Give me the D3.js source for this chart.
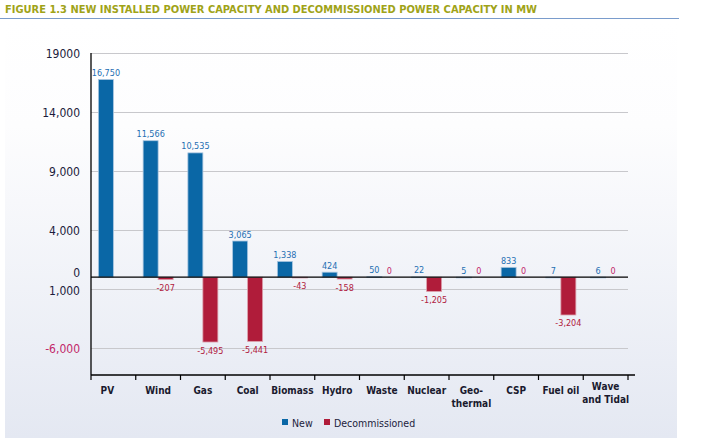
<!DOCTYPE html>
<html>
<head>
<meta charset="utf-8">
<script src="https://cdn.jsdelivr.net/npm/d3@7/dist/d3.min.js"></script>
<style>
  html, body { margin: 0; padding: 0; background: #ffffff; }
  svg { display: block; }
  text { font-family: 'Liberation Sans Narrow', 'Arial Narrow', 'DejaVu Sans Condensed', sans-serif; }
</style>
</head>
<body>
<svg id="chart" width="703" height="439"></svg>
<script>
// ---- DATA ----
const title = "FIGURE 1.3 NEW INSTALLED POWER CAPACITY AND DECOMMISSIONED POWER CAPACITY IN MW";
const categories = ["PV", "Wind", "Gas", "Coal", "Biomass", "Hydro", "Waste", "Nuclear", "Geo-\nthermal", "CSP", "Fuel oil", "Wave\nand Tidal"];
const newValues = [16750, 11566, 10535, 3065, 1338, 424, 50, 22, 5, 833, 7, 6];
const decommissionedValues = [null, -207, -5495, -5441, -43, -158, 0, -1205, 0, 0, -3204, 0];
const yTickValues = [19000, 14000, 9000, 4000, 0, -1000, -6000];
const yTickLabels = ["19000", "14,000", "9,000", "4,000", "0", "1,000", "-6,000"];
const seriesNames = ["New", "Decommissioned"];

(function () {
// ---- STYLE ----
const colors = { New: "#0a67a6", Decommissioned: "#b01c3a" };
const labelColors = { New: "#1f6fb3", Decommissioned: "#b0203e", zero: "#c2286a" };

const svg = d3.select("#chart");
const pL = 91, pR = 628, pT = 53, pB = 375;

// background panel with gradient
const defs = svg.append("defs");
const grad = defs.append("linearGradient").attr("id", "bg").attr("x1", 0).attr("y1", 0).attr("x2", 0).attr("y2", 1);
grad.append("stop").attr("offset", "0%").attr("stop-color", "#ffffff");
grad.append("stop").attr("offset", "25%").attr("stop-color", "#fdfdfe");
grad.append("stop").attr("offset", "100%").attr("stop-color", "#e4e8f2");
svg.append("rect").attr("x", 5).attr("y", 22).attr("width", 672).attr("height", 416).attr("fill", "url(#bg)");

// title
svg.append("text").attr("x", 5).attr("y", 13)
  .attr("font-size", 11).attr("font-weight", "bold").attr("fill", "#9fa318")
  .text(title);
svg.append("line").attr("x1", 0).attr("x2", 679).attr("y1", 18.5).attr("y2", 18.5)
  .attr("stroke", "#7a9ccc").attr("stroke-width", 1.2);

// scales
const y = d3.scaleLinear().domain([-8290, 19000]).range([pB, pT]);
const x0 = d3.scaleBand().domain(d3.range(categories.length)).range([pL, pR]).paddingInner(0.33).paddingOuter(0.165);
const xBand = d3.scaleBand().domain(d3.range(categories.length)).range([pL, pR]);
const x1 = d3.scaleBand().domain(seriesNames).range([0, x0.bandwidth()]);

// gridlines
const grid = svg.append("g");
grid.selectAll("line").data(yTickValues.filter(v => v !== 0)).join("line")
  .attr("x1", pL).attr("x2", pR)
  .attr("y1", d => Math.round(y(d)) + 0.5).attr("y2", d => Math.round(y(d)) + 0.5)
  .attr("stroke", "#c8c8cc").attr("stroke-width", 1);

// y axis labels
const yAxis = d3.axisLeft(y).tickValues(yTickValues).tickSize(0).tickPadding(11)
  .tickFormat((d, i) => yTickLabels[i]);
const gy = svg.append("g").attr("transform", `translate(${pL},0)`).call(yAxis);
gy.select(".domain").remove();
gy.selectAll("text")
  .attr("font-size", 12)
  .attr("fill", d => d < -2000 ? labelColors.zero : "#1c1c3c")
  .attr("font-family", "'Liberation Sans Narrow','Arial Narrow','DejaVu Sans Condensed',sans-serif")
  .attr("dy", d => d === 0 ? "-0.05em" : (d === -1000 ? "0.45em" : "0.4em"));

// bars
const rows = categories.map((c, i) => ({ i, New: newValues[i], Decommissioned: decommissionedValues[i] }));
const groups = svg.append("g").selectAll("g").data(rows).join("g")
  .attr("transform", d => `translate(${x0(d.i)},0)`);

groups.selectAll("rect").data(d => seriesNames.map(s => ({ s, v: d[s] })).filter(e => e.v !== null && e.v !== 0))
  .join("rect")
  .attr("x", e => x1(e.s))
  .attr("width", x1.bandwidth())
  .attr("y", e => Math.min(y(e.v), y(0)))
  .attr("height", e => Math.max(Math.abs(y(e.v) - y(0)), 0.8))
  .attr("fill", e => colors[e.s])
  .attr("stroke", e => e.s === "New" ? "#a9c6e0" : "#dca0ac")
  .attr("stroke-width", 0.8);

// value labels
const fmt = v => d3.format(",")(v).replace("\u2212", "-");
groups.selectAll("text.val").data(d => seriesNames.map(s => ({ s, v: d[s] })).filter(e => e.v !== null))
  .join("text").attr("class", "val")
  .attr("x", e => x1(e.s) + x1.bandwidth() / 2)
  .attr("y", e => e.v >= 0 ? y(e.v) - 3.5 : y(e.v) + 11.5)
  .attr("text-anchor", "middle")
  .attr("font-size", 9)
  .attr("fill", e => e.s === "New" ? labelColors.New : (e.v === 0 ? labelColors.zero : labelColors.Decommissioned))
  .text(e => fmt(e.v));

// zero line
svg.append("line").attr("x1", pL).attr("x2", pR).attr("y1", y(0)).attr("y2", y(0))
  .attr("stroke", "#000").attr("stroke-width", 1.3);

// left axis line
svg.append("line").attr("x1", pL).attr("x2", pL).attr("y1", pT).attr("y2", pB)
  .attr("stroke", "#000").attr("stroke-width", 1.3);

// bottom axis
const xAxis = d3.axisBottom(xBand).tickSize(0).tickFormat("");
const gx = svg.append("g").attr("transform", `translate(0,${pB})`).call(xAxis);
gx.select(".domain").remove();
gx.append("line").attr("x1", pL).attr("x2", 635).attr("y1", 0).attr("y2", 0).attr("stroke", "#000").attr("stroke-width", 1.3);
const boundaries = xBand.domain().map(i => xBand(i)).concat([pR]);
gx.selectAll("line.tk").data(boundaries).join("line").attr("class", "tk")
  .attr("x1", d => d).attr("x2", d => d).attr("y1", 0).attr("y2", 5)
  .attr("stroke", "#000").attr("stroke-width", 1.2);

// category labels
const catG = svg.append("g");
categories.forEach((c, i) => {
  const lines = c.split("\n");
  const cx = xBand(i) + xBand.bandwidth() / 2 - (i === 0 ? 6 : 0);
  const startY = lines.length > 1 && i === categories.length - 1 ? 390 : 394;
  const t = catG.append("text").attr("x", cx).attr("y", startY)
    .attr("text-anchor", "middle").attr("font-size", 10).attr("font-weight", "bold").attr("fill", "#1a1a2e");
  lines.forEach((l, k) => t.append("tspan").attr("x", cx).attr("dy", k === 0 ? 0 : 13).text(l));
});

// legend
const leg = svg.append("g").attr("transform", "translate(282,418)");
seriesNames.forEach((s, k) => {
  const ox = k === 0 ? 0 : 42;
  leg.append("rect").attr("x", ox).attr("y", 1).attr("width", 6).attr("height", 6).attr("fill", colors[s]);
  leg.append("text").attr("x", ox + 10).attr("y", 8.5).attr("font-size", 10.5).attr("fill", "#1c1c3c").text(s);
});
})();
</script>
</body>
</html>
